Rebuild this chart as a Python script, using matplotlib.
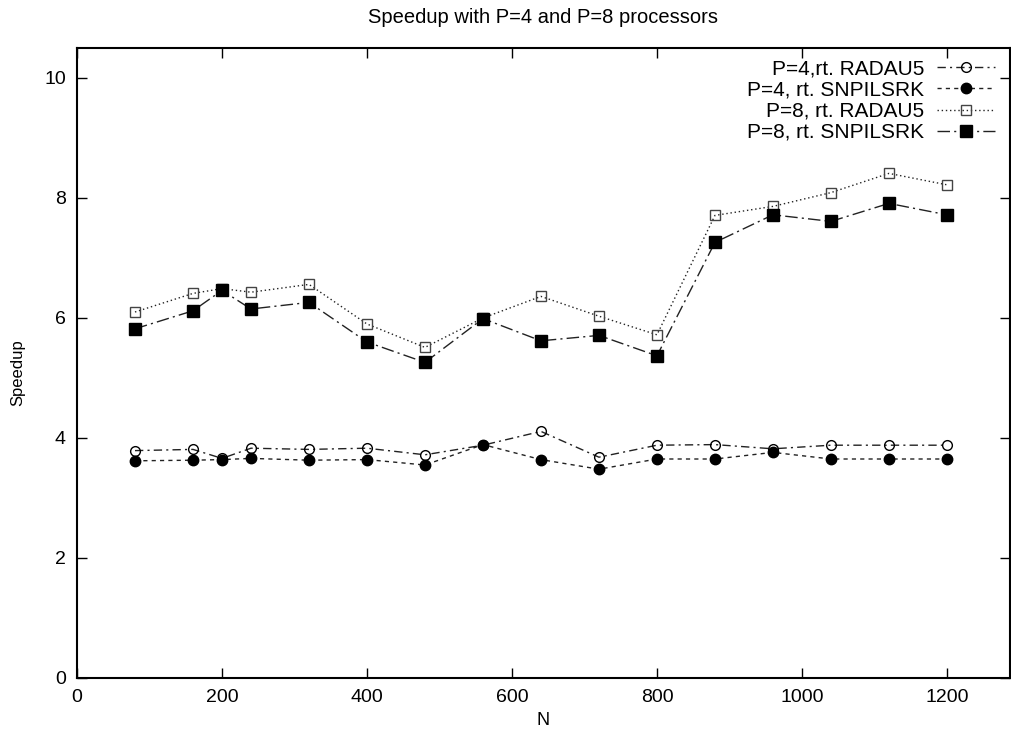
import matplotlib.pyplot as plt

plt.rcParams["font.family"] = ["Liberation Sans", "DejaVu Sans"]

n_values = [80, 160, 200, 240, 320, 400, 480, 560, 640, 720, 800, 880, 960, 1040, 1120, 1200]

p4_radau5 = [3.79, 3.81, 3.66, 3.83, 3.81, 3.83, 3.72, 3.88, 4.11, 3.68, 3.88, 3.89, 3.82, 3.88, 3.88, 3.88]
p4_snpilsrk = [3.62, 3.63, 3.64, 3.66, 3.63, 3.64, 3.55, 3.89, 3.64, 3.48, 3.65, 3.65, 3.76, 3.65, 3.65, 3.65]
p8_radau5 = [6.10, 6.41, 6.49, 6.43, 6.56, 5.90, 5.51, 6.00, 6.36, 6.03, 5.72, 7.71, 7.86, 8.09, 8.41, 8.22]
p8_snpilsrk = [5.82, 6.12, 6.46, 6.15, 6.26, 5.60, 5.26, 5.99, 5.62, 5.71, 5.37, 7.26, 7.72, 7.61, 7.91, 7.72]

x_ticks = [0, 200, 400, 600, 800, 1000, 1200]
y_ticks = [0, 2, 4, 6, 8, 10]

fig = plt.figure(figsize=(10.11, 7.40), dpi=100)
ax = fig.add_axes([77 / 1011, 62 / 740, 933 / 1011, 630 / 740])

ax.plot(n_values, p4_radau5, color="#222222", linewidth=1.0, dashes=(6, 3, 1.5, 3),
        marker="o", markersize=7, markerfacecolor="none", markeredgecolor="black",
        markeredgewidth=1.0, label="P=4,rt. RADAU5")
ax.plot(n_values, p4_snpilsrk, color="#222222", linewidth=1.0, dashes=(3, 3),
        marker="o", markersize=7.5, markerfacecolor="black", markeredgecolor="black",
        label="P=4, rt. SNPILSRK")
ax.plot(n_values, p8_radau5, color="#222222", linewidth=1.0, dashes=(1, 2),
        marker="s", markersize=7, markerfacecolor="none", markeredgecolor="#444444",
        markeredgewidth=1.0, label="P=8, rt. RADAU5")
ax.plot(n_values, p8_snpilsrk, color="#222222", linewidth=1.0, dashes=(9, 3, 1.5, 3),
        marker="s", markersize=8, markerfacecolor="black", markeredgecolor="black",
        label="P=8, rt. SNPILSRK")

ax.set_xlim(0, 1287)
ax.set_ylim(0, 10.5)
ax.set_xticks(x_ticks)
ax.set_yticks(y_ticks)
ax.tick_params(direction="in", length=7, width=1, top=True, right=True, labelsize=14, pad=8)
for spine in ax.spines.values():
    spine.set_linewidth(1.5)

ax.set_xlabel("N", fontsize=13)
ax.set_ylabel("Speedup", fontsize=12)
ax.yaxis.set_label_coords(-0.055, 0.484)
ax.set_title("Speedup with P=4 and P=8 processors", fontsize=14.5, pad=18)

ax.legend(loc="upper right", bbox_to_anchor=(0.995, 0.998), frameon=False, markerfirst=False,
          fontsize=15, handlelength=2.8, handletextpad=0.6, labelspacing=0.1, borderpad=0)

fig.savefig("out.png", dpi=100)
plt.close(fig)
